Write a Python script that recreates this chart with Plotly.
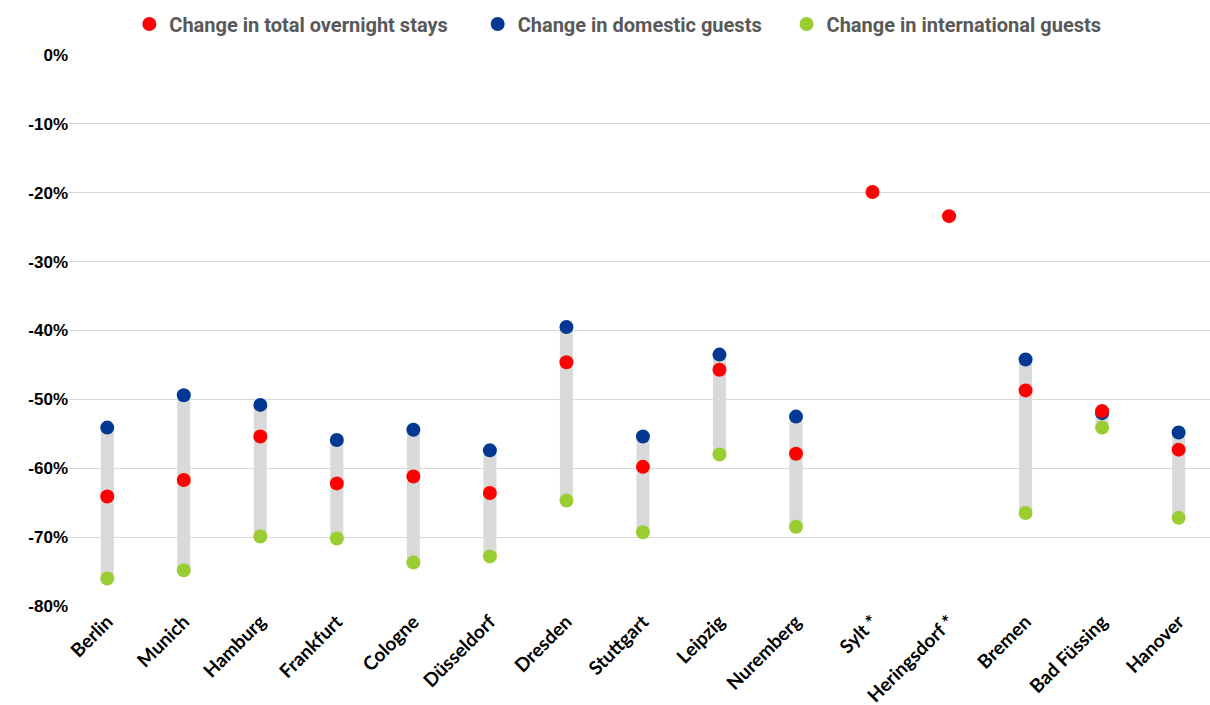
import plotly.graph_objects as go

cities = ["Berlin", "Munich", "Hamburg", "Frankfurt", "Cologne", "Düsseldorf", "Dresden",
          "Stuttgart", "Leipzig", "Nuremberg", "Sylt *", "Heringsdorf *", "Bremen",
          "Bad Füssing", "Hanover"]
total = [-64.1, -61.7, -55.4, -62.2, -61.2, -63.6, -44.6, -59.8, -45.7, -57.9, -19.9, -23.4, -48.7, -51.7, -57.3]
domestic = [-54.1, -49.4, -50.8, -55.9, -54.4, -57.4, -39.5, -55.4, -43.5, -52.5, None, None, -44.2, -52.0, -54.8]
international = [-76.0, -74.8, -69.9, -70.2, -73.7, -72.8, -64.7, -69.3, -58.0, -68.5, None, None, -66.5, -54.1, -67.2]

tick_vals = [0, -10, -20, -30, -40, -50, -60, -70, -80]
tick_text = ["0%", "-10%", "-20%", "-30%", "-40%", "-50%", "-60%", "-70%", "-80%"]

xs = list(range(len(cities)))
bar_base = [i if i is not None else 0 for i in international]
bar_len = [(d - i) if (d is not None and i is not None) else 0 for d, i in zip(domestic, international)]

fig = go.Figure()
fig.add_trace(go.Bar(x=xs, y=bar_len, base=bar_base, width=0.17,
                     marker=dict(color="#d9d9d9", line=dict(width=0)),
                     showlegend=False, hoverinfo="skip"))
fig.add_trace(go.Scatter(x=xs, y=domestic, mode="markers",
                         name="Change in domestic guests" + "\u00a0" * 4,
                         marker=dict(color="#003893", size=14), legendrank=2))
fig.add_trace(go.Scatter(x=xs, y=total, mode="markers",
                         name="Change in total overnight stays" + "\u00a0" * 5,
                         marker=dict(color="#ff0000", size=14), legendrank=1))
fig.add_trace(go.Scatter(x=xs, y=international, mode="markers", name="Change in international guests",
                         marker=dict(color="#9acd32", size=14), legendrank=3))

fig.update_layout(
    width=1210, height=705,
    margin=dict(l=69, r=0, t=55, b=99, autoexpand=False),
    plot_bgcolor="white", paper_bgcolor="white",
    barmode="overlay",
    showlegend=True,
    legend=dict(orientation="h", x=0.481, xanchor="center", y=1 - 24 / 705, yref="container",
                yanchor="middle", traceorder="normal",
                font=dict(family="Roboto, sans-serif", size=20, color="#595959", weight="bold")),
    xaxis=dict(range=[-0.5, 14.41], tickmode="array", tickvals=xs, ticktext=cities,
               tickangle=-45, showgrid=False, zeroline=False, showline=False, ticks="",
               automargin=False,
               tickfont=dict(family="Lato, Open Sans, sans-serif", size=19, color="#000000", weight="bold")),
    yaxis=dict(range=[-80, 0], tickmode="array", tickvals=tick_vals, ticktext=tick_text,
               showgrid=True, gridcolor="#d9d9d9", gridwidth=1, zeroline=False, showline=False,
               ticks="", ticklen=0, automargin=False,
               tickfont=dict(family="Liberation Sans, Arial, sans-serif", size=17, color="#000000", weight="bold")),
)

fig.write_html("out.html", config={"displayModeBar": False},
               post_script="document.body.style.margin='0';document.body.style.overflow='hidden';")
